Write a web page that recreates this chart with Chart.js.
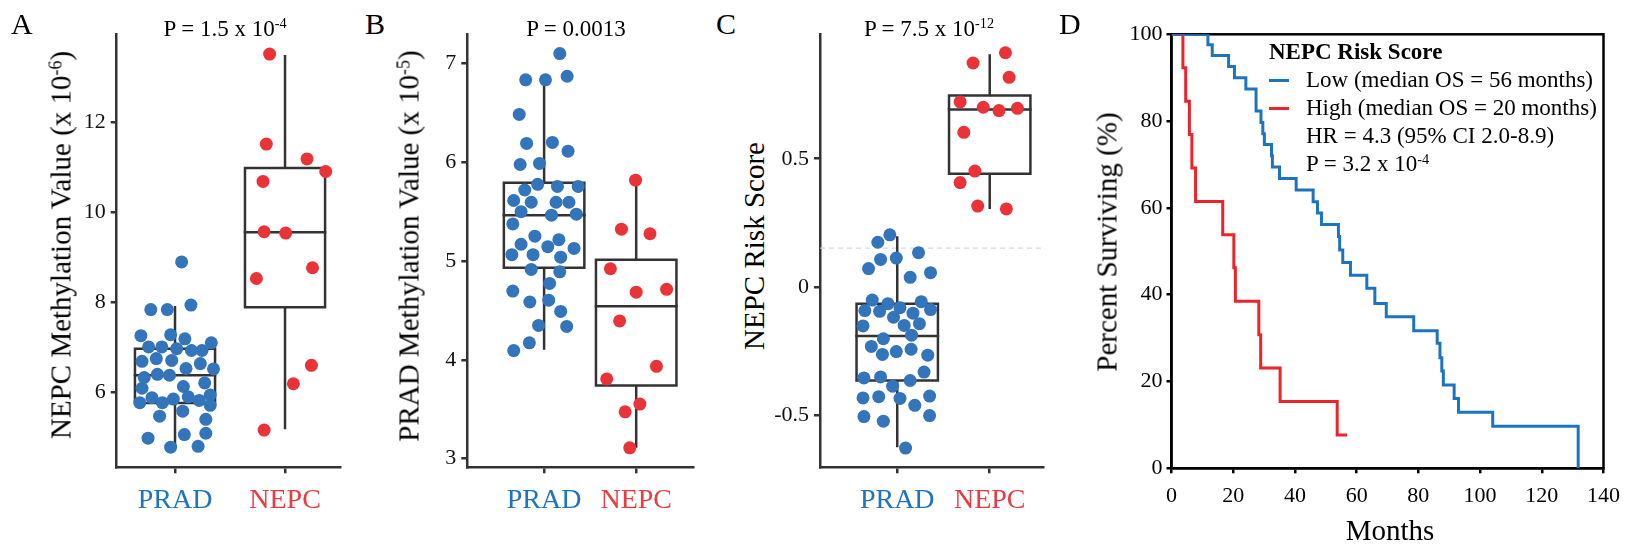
<!DOCTYPE html>
<html><head><meta charset="utf-8">
<script src="https://cdn.jsdelivr.net/npm/chart.js@4.4.1/dist/chart.umd.min.js"></script>
<style>
html,body{margin:0;padding:0;background:#fff}
body{width:1630px;height:548px;overflow:hidden;position:relative;font-family:"Liberation Serif",serif;color:#000}
.cv{position:absolute;top:0;height:548px}
.t{position:absolute;white-space:nowrap;line-height:1}
.rot{transform:translate(-50%,-50%) rotate(-90deg)}
.sp{font-size:0.62em;position:relative;top:-0.5em}
.lg{position:absolute;height:3px}
</style></head><body>

<div class="cv" id="wA" style="left:0;width:360px"><canvas id="cA"></canvas></div>
<div class="cv" id="wB" style="left:400px;width:310px"><canvas id="cB"></canvas></div>
<div class="cv" id="wC" style="left:770px;width:290px"><canvas id="cC"></canvas></div>
<div class="cv" id="wD" style="left:1120px;width:510px"><canvas id="cD"></canvas></div>

<div class="t" style="left:11px;top:9px;font-size:30px">A</div>
<div class="t" style="left:365px;top:9px;font-size:30px">B</div>
<div class="t" style="left:716px;top:9px;font-size:30px">C</div>
<div class="t" style="left:1059px;top:9px;font-size:30px">D</div>

<div class="t" style="left:75px;width:300px;text-align:center;top:16.5px;font-size:23px">P = 1.5 x 10<span class="sp">-4</span></div>
<div class="t" style="left:426px;width:300px;text-align:center;top:16.5px;font-size:23px">P = 0.0013</div>
<div class="t" style="left:779px;width:300px;text-align:center;top:16.5px;font-size:23px">P = 7.5 x 10<span class="sp">-12</span></div>

<div class="t rot" style="left:61px;top:245px;font-size:29px">NEPC Methylation Value (x 10<span class="sp">-6</span>)</div>
<div class="t rot" style="left:409px;top:246px;font-size:29px">PRAD Methylation Value (x 10<span class="sp">-5</span>)</div>
<div class="t rot" style="left:754px;top:246px;font-size:29px">NEPC Risk Score</div>
<div class="t rot" style="left:1107px;top:242px;font-size:29px">Percent Surviving (%)</div>
<div class="t" style="left:1240px;width:300px;text-align:center;top:515.7px;font-size:29px">Months</div>

<div class="t" style="left:1269px;top:39.7px;font-size:23px;font-weight:bold">NEPC Risk Score</div>
<div class="lg" style="left:1269px;width:20px;top:78.5px;background:#1C74C0"></div>
<div class="lg" style="left:1269px;width:20px;top:106.5px;background:#EE2229"></div>
<div class="t" style="left:1306px;top:67.7px;font-size:23px">Low (median OS = 56 months)</div>
<div class="t" style="left:1306px;top:95.7px;font-size:23px">High (median OS = 20 months)</div>
<div class="t" style="left:1306px;top:123.7px;font-size:23px">HR = 4.3 (95% CI 2.0-8.9)</div>
<div class="t" style="left:1306px;top:151.7px;font-size:23px">P = 3.2 x 10<span class="sp">-4</span></div>

<script>
// ---------- data ----------
const categories = ['PRAD', 'NEPC'];
const categoryColors = ['#1F74BD', '#EC3A40'];
const pointColors = ['#3374BB', '#E93338'];

// Panel A: NEPC methylation value (x 10^-6)
const aPradValues = [8.90,7.84,7.84,7.94,7.26,7.28,7.19,7.10,7.01,7.01,6.97,6.93,6.93,6.69,6.75,6.71,6.64,6.52,6.53,6.33,6.40,6.38,6.09,6.13,6.21,5.88,5.77,5.77,5.85,5.90,5.82,5.94,5.71,5.47,5.58,5.40,4.98,5.06,5.09,4.78,4.80];
const aPradJitter = [0.06,-0.22,-0.07,0.145,-0.31,-0.04,0.09,0.33,-0.24,-0.12,0.015,0.15,0.245,-0.30,-0.17,-0.03,0.23,0.35,0.10,-0.28,-0.16,-0.05,-0.30,0.076,0.27,-0.21,-0.32,-0.115,-0.015,0.12,0.22,0.32,0.32,-0.14,0.07,0.28,-0.245,0.085,0.28,-0.04,0.21];
const aNepcValues = [13.52,11.52,11.19,10.91,10.69,9.57,9.54,8.77,8.53,6.60,6.19,5.16];
const aNepcJitter = [-0.14,-0.17,0.20,0.37,-0.20,-0.19,0.006,0.25,-0.26,0.24,0.076,-0.19];
const aPradBox = [4.78, 5.76, 6.38, 6.97, 7.92];   // lower whisker, Q1, median, Q3, upper whisker
const aNepcBox = [5.18, 7.89, 9.56, 10.99, 13.50];
const aYTicks = [6, 8, 10, 12];

// Panel B: PRAD methylation value (x 10^-5)
const bPradValues = [7.095,6.83,6.83,6.866,6.48,6.187,6.197,6.109,5.974,5.985,5.773,5.716,5.752,5.752,5.61,5.592,5.592,5.592,5.497,5.462,5.472,5.373,5.249,5.168,5.143,5.214,5.126,5.062,5.062,5.037,4.913,4.889,4.772,4.694,4.584,4.602,4.489,4.347,4.337,4.171,4.093];
const bPradJitter = [0.17,-0.20,0.015,0.25,-0.27,-0.19,0.09,0.26,-0.26,-0.05,-0.07,-0.21,0.145,0.37,-0.33,-0.14,0.13,0.27,-0.25,0.08,0.35,-0.34,-0.10,-0.25,0.04,0.16,0.325,-0.35,-0.12,0.18,-0.14,0.17,0.06,-0.34,-0.155,0.05,0.18,-0.06,0.245,-0.16,-0.33];
const bNepcValues = [5.815,5.32,5.274,4.92,4.683,4.712,4.393,3.934,3.806,3.552,3.474,3.11];
const bNepcJitter = [-0.007,-0.16,0.15,-0.28,0.0,0.33,-0.18,0.22,-0.32,0.04,-0.12,-0.07];
const bPradBox = [4.10, 4.93, 5.46, 5.79, 6.79];
const bNepcBox = [3.11, 3.74, 4.54, 5.01, 5.81];
const bYTicks = [3, 4, 5, 6, 7];

// Panel C: NEPC risk score
const cPradValues = [0.203,0.174,0.133,0.107,0.112,0.071,0.055,0.037,-0.052,-0.066,-0.058,-0.093,-0.096,-0.082,-0.103,-0.089,-0.119,-0.153,-0.151,-0.144,-0.189,-0.203,-0.233,-0.244,-0.264,-0.253,-0.267,-0.333,-0.356,-0.352,-0.366,-0.388,-0.434,-0.429,-0.436,-0.427,-0.463,-0.507,-0.525,-0.503,-0.630];
const cPradJitter = [-0.08,-0.21,0.23,-0.18,-0.01,-0.31,0.36,0.14,-0.27,-0.10,0.26,-0.35,-0.19,0.03,0.17,0.36,-0.04,-0.37,0.075,0.24,0.155,-0.15,-0.28,0.15,-0.16,-0.01,0.33,0.29,-0.36,-0.18,0.14,-0.05,-0.37,-0.20,0.03,0.35,0.19,-0.36,-0.15,0.35,0.09];
const cNepcValues = [0.914,0.874,0.818,0.722,0.701,0.688,0.697,0.603,0.452,0.407,0.315,0.304];
const cNepcJitter = [0.17,-0.18,0.21,-0.32,-0.07,0.10,0.30,-0.28,-0.16,-0.32,-0.13,0.18];
const cPradBox = [-0.627, -0.366, -0.192, -0.066, 0.197];
const cNepcBox = [0.304, 0.441, 0.692, 0.747, 0.908];
const cCutoff = 0.151;
const cYTicks = [-0.5, 0, 0.5];

// Panel D: Kaplan-Meier (drop time in months, survival % after drop)
const kmLowTime = [0,11.8,13.2,18.5,20.4,24.1,27.4,29.0,29.6,30.1,32.4,32.7,35.0,40.4,45.9,47.3,48.6,54.1,54.5,55.5,58.0,63.3,65.9,69.6,78.5,86.1,87.0,87.6,88.1,91.6,93.0,104.1,131.8];
const kmLowSurv = [100,97.6,95.1,92.6,90.0,87.4,82.3,79.7,77.1,74.6,72.0,69.4,66.8,64.1,61.4,58.8,56.2,53.4,50.3,47.4,44.5,41.5,38.0,34.9,31.7,28.8,25.5,22.4,19.2,16.1,12.9,9.7,0];
const kmHighTime = [0,3.7,4.6,5.8,6.6,7.8,16.6,20.2,20.7,28.3,28.9,35.2,53.7,56.9];
const kmHighSurv = [100,92.3,84.6,76.9,69.2,61.5,53.8,46.2,38.5,30.8,23.1,15.4,7.7,7.7];
const dXTicks = [0,20,40,60,80,100,120,140];
const dYTicks = [0,20,40,60,80,100];

// ---------- layout (page pixels) ----------
const FONT = "'Liberation Serif', serif";
Chart.defaults.font.family = FONT;
const PAGE_H = 548;
const geomA = {left:0, width:360, plot:[116.7,34.3,340.7,467.3], x:[-0.53,1.506], y:[4.333,13.96], hw:0.364};
const geomB = {left:400, width:310, plot:[467.3,34.3,693.3,467.3], x:[-0.834,1.62], y:[2.913,7.29], hw:0.437};
const geomC = {left:770, width:290, plot:[820,34.3,1043,467.3], x:[-0.835,1.576], y:[-0.705,0.986], hw:0.44};
const geomD = {left:1120, width:510, plot:[1171.5,34.3,1609,468.3], x:[0,140], y:[0,100]};

function pts(values, jitter, c) { return values.map((v,i)=>({x:c+jitter[i], y:v})); }

function boxSets(c, s, hw) {
  const st = {showLine:true, borderColor:'#333', borderWidth:2.5, pointRadius:0, fill:false, tension:0, borderJoinStyle:'miter', borderCapStyle:'square'};
  return [
    {...st, data:[{x:c-hw,y:s[1]},{x:c+hw,y:s[1]},{x:c+hw,y:s[3]},{x:c-hw,y:s[3]},{x:c-hw,y:s[1]}]},
    {...st, data:[{x:c-hw,y:s[2]},{x:c+hw,y:s[2]}]},
    {...st, borderCapStyle:'butt', data:[{x:c,y:s[3]},{x:c,y:s[4]}]},
    {...st, borderCapStyle:'butt', data:[{x:c,y:s[0]},{x:c,y:s[1]}]}
  ];
}

function padFor(g){ return {left:0, top:g.plot[1], right:(g.left+g.width)-g.plot[2], bottom:0}; }

function boxChart(id, g, groups, yTicks, extra) {
  const ds = [];
  groups.forEach((gr,k)=>{
    ds.push({data:pts(gr.values, gr.jitter, k), backgroundColor:pointColors[k], borderWidth:0, pointRadius:6.5, pointHoverRadius:6.5});
  });
  groups.forEach((gr,k)=>{ boxSets(k, gr.box, g.hw).forEach(d=>ds.push(d)); });
  if (extra) ds.push(extra);
  return new Chart(document.getElementById(id), {
    type:'scatter',
    data:{datasets:ds},
    options:{
      animation:false, responsive:true, maintainAspectRatio:false, events:[],
      layout:{padding:padFor(g)},
      plugins:{legend:{display:false}, tooltip:{enabled:false}},
      scales:{
        x:{type:'linear', min:g.x[0], max:g.x[1],
           afterBuildTicks:s=>{ s.ticks = categories.map((c,i)=>({value:i})); },
           afterFit:s=>{ s.height = PAGE_H - g.plot[3]; },
           ticks:{callback:(v,i)=>categories[i], color:ctx=>categoryColors[ctx.index], font:{size:28}, padding:11, maxRotation:0, autoSkip:false},
           grid:{drawOnChartArea:false, drawTicks:true, tickLength:6, color:'#333', lineWidth:2.5},
           border:{display:true, color:'#333', width:2.5}},
        y:{type:'linear', min:g.y[0], max:g.y[1],
           afterBuildTicks:s=>{ s.ticks = yTicks.map(v=>({value:v})); },
           afterFit:s=>{ s.width = g.plot[0]-g.left; },
           ticks:{callback:v=>String(v), color:'#111', font:{size:22}, padding:5},
           grid:{drawOnChartArea:false, drawTicks:true, tickLength:6, color:'#333', lineWidth:2.5},
           border:{display:true, color:'#333', width:2.5}}
      }
    }
  });
}

boxChart('cA', geomA, [
  {values:aPradValues, jitter:aPradJitter, box:aPradBox},
  {values:aNepcValues, jitter:aNepcJitter, box:aNepcBox}], aYTicks);
boxChart('cB', geomB, [
  {values:bPradValues, jitter:bPradJitter, box:bPradBox},
  {values:bNepcValues, jitter:bNepcJitter, box:bNepcBox}], bYTicks);
boxChart('cC', geomC, [
  {values:cPradValues, jitter:cPradJitter, box:cPradBox},
  {values:cNepcValues, jitter:cNepcJitter, box:cNepcBox}], cYTicks,
  {showLine:true, data:[{x:geomC.x[0],y:cCutoff},{x:geomC.x[1],y:cCutoff}], borderColor:'#cfcfcf', borderWidth:1, borderDash:[5,4], pointRadius:0, fill:false});

// Panel D
const frame = {id:'frame', beforeDatasetsDraw(chart){
  const a = chart.chartArea, ctx = chart.ctx;
  ctx.save(); ctx.strokeStyle='#000'; ctx.lineWidth=2.5;
  ctx.strokeRect(a.left, a.top, a.right-a.left, a.bottom-a.top); ctx.restore();
}};
new Chart(document.getElementById('cD'), {
  type:'line',
  data:{datasets:[
    {data:kmLowTime.map((t,i)=>({x:t,y:kmLowSurv[i]})), stepped:'before', borderColor:'#1C74C0', borderWidth:3, pointRadius:0, fill:false},
    {data:kmHighTime.map((t,i)=>({x:t,y:kmHighSurv[i]})), stepped:'before', borderColor:'#EE2229', borderWidth:3, pointRadius:0, fill:false}
  ]},
  options:{
    animation:false, responsive:true, maintainAspectRatio:false, events:[],
    layout:{padding:padFor(geomD)},
    plugins:{legend:{display:false}, tooltip:{enabled:false}},
    scales:{
      x:{type:'linear', min:geomD.x[0], max:geomD.x[1],
         afterBuildTicks:s=>{ s.ticks = dXTicks.map(v=>({value:v})); },
         afterFit:s=>{ s.height = PAGE_H - geomD.plot[3]; },
         ticks:{callback:v=>String(v), color:'#000', font:{size:22}, padding:10, maxRotation:0, autoSkip:false},
         grid:{drawOnChartArea:false, drawTicks:true, tickLength:5, color:'#000', lineWidth:2.5},
         border:{display:true, color:'#000', width:2.5}},
      y:{type:'linear', min:geomD.y[0], max:geomD.y[1],
         afterBuildTicks:s=>{ s.ticks = dYTicks.map(v=>({value:v})); },
         afterFit:s=>{ s.width = geomD.plot[0]-geomD.left; },
         ticks:{callback:v=>String(v), color:'#000', font:{size:22}, padding:4},
         grid:{drawOnChartArea:false, drawTicks:true, tickLength:5, color:'#000', lineWidth:2.5},
         border:{display:true, color:'#000', width:2.5}}
    }
  },
  plugins:[frame]
});
</script>
</body></html>
